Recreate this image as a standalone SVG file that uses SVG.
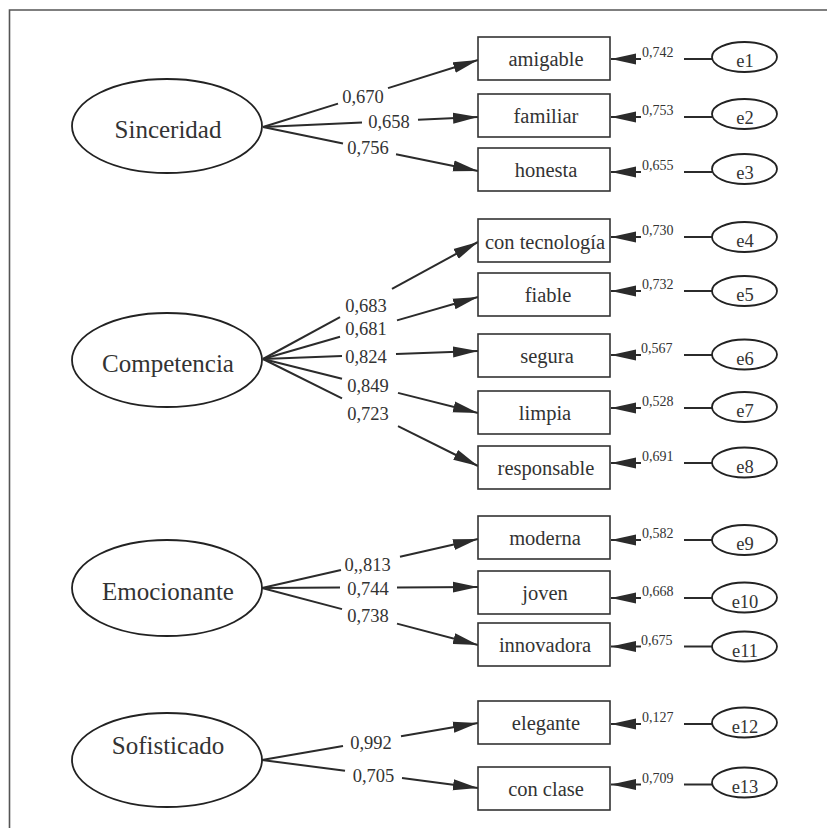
<svg xmlns="http://www.w3.org/2000/svg" width="827" height="828" viewBox="0 0 827 828">
<style>
text{font-family:"Liberation Serif","Times New Roman",serif;fill:#333}
.lat{fill:#fff;stroke:#222;stroke-width:1.8}
.box{fill:#fff;stroke:#333;stroke-width:1.6}
.err{fill:#fff;stroke:#222;stroke-width:1.8}
.lt{font-size:25px;text-anchor:middle}
.bt{font-size:20.5px;text-anchor:middle}
.et{font-size:18.5px;text-anchor:middle}
.ld{font-size:18.5px;text-anchor:middle}
.ev{font-size:14px}
.c{stroke:#2b2b2b;stroke-width:2;fill:none}
.frame{stroke:#555;stroke-width:1.6;fill:none}
</style>
<defs>
<marker id="ah" markerUnits="userSpaceOnUse" markerWidth="26" markerHeight="12" refX="25" refY="6" orient="auto">
<path d="M0,0.5 L25,6 L0,11.5 z" fill="#2b2b2b"/>
</marker>
</defs>
<rect width="827" height="828" fill="#fff"/>
<path class="frame" d="M9.5,828 V10 H827"/>

<g id="connectors">
<!-- Sinceridad -->
<line class="c" x1="263" y1="127" x2="338" y2="103.6"/><line class="c" x1="388" y1="88.1" x2="478" y2="60" marker-end="url(#ah)"/>
<line class="c" x1="263" y1="127" x2="362" y2="122.4"/><line class="c" x1="418" y1="119.8" x2="478" y2="117" marker-end="url(#ah)"/>
<line class="c" x1="263" y1="127" x2="343" y2="143.4"/><line class="c" x1="396" y1="154.2" x2="478" y2="171" marker-end="url(#ah)"/>
<!-- Competencia -->
<line class="c" x1="263" y1="359" x2="340" y2="317.1"/><line class="c" x1="392" y1="288.8" x2="478" y2="242" marker-end="url(#ah)"/>
<line class="c" x1="263" y1="359" x2="340" y2="336.8"/><line class="c" x1="397" y1="320.4" x2="478" y2="297" marker-end="url(#ah)"/>
<line class="c" x1="263" y1="359" x2="342" y2="356.1"/><line class="c" x1="396" y1="354.1" x2="478" y2="351" marker-end="url(#ah)"/>
<line class="c" x1="263" y1="359" x2="342" y2="378.8"/><line class="c" x1="398" y1="392.9" x2="478" y2="413" marker-end="url(#ah)"/>
<line class="c" x1="263" y1="359" x2="342" y2="398.3"/><line class="c" x1="398" y1="426.2" x2="478" y2="466" marker-end="url(#ah)"/>
<!-- Emocionante -->
<line class="c" x1="262" y1="588" x2="341" y2="570.1"/><line class="c" x1="400" y1="556.7" x2="478" y2="539" marker-end="url(#ah)"/>
<line class="c" x1="262" y1="588" x2="340" y2="587.6"/><line class="c" x1="397" y1="587.4" x2="478" y2="587" marker-end="url(#ah)"/>
<line class="c" x1="262" y1="588" x2="342" y2="609.1"/><line class="c" x1="397" y1="623.6" x2="478" y2="645" marker-end="url(#ah)"/>
<!-- Sofisticado -->
<line class="c" x1="262" y1="760" x2="343" y2="746.1"/><line class="c" x1="401" y1="736.2" x2="478" y2="723" marker-end="url(#ah)"/>
<line class="c" x1="262" y1="760" x2="345" y2="770.8"/><line class="c" x1="402" y1="778.1" x2="478" y2="788" marker-end="url(#ah)"/>
<!-- error terms -->
<line class="c" x1="641" y1="59" x2="611" y2="59" marker-end="url(#ah)"/><line class="c" x1="684" y1="59" x2="712" y2="59"/>
<line class="c" x1="641" y1="117" x2="611" y2="117" marker-end="url(#ah)"/><line class="c" x1="684" y1="117" x2="712" y2="117"/>
<line class="c" x1="641" y1="172" x2="611" y2="172" marker-end="url(#ah)"/><line class="c" x1="684" y1="172" x2="712" y2="172"/>
<line class="c" x1="641" y1="237" x2="611" y2="237" marker-end="url(#ah)"/><line class="c" x1="684" y1="237" x2="712" y2="237"/>
<line class="c" x1="641" y1="291" x2="611" y2="291" marker-end="url(#ah)"/><line class="c" x1="684" y1="291" x2="712" y2="291"/>
<line class="c" x1="641" y1="355" x2="611" y2="355" marker-end="url(#ah)"/><line class="c" x1="684" y1="355" x2="712" y2="355"/>
<line class="c" x1="641" y1="408" x2="611" y2="408" marker-end="url(#ah)"/><line class="c" x1="684" y1="408" x2="712" y2="408"/>
<line class="c" x1="641" y1="463" x2="611" y2="463" marker-end="url(#ah)"/><line class="c" x1="684" y1="463" x2="712" y2="463"/>
<line class="c" x1="641" y1="540" x2="611" y2="540" marker-end="url(#ah)"/><line class="c" x1="684" y1="540" x2="712" y2="540"/>
<line class="c" x1="641" y1="598" x2="611" y2="598" marker-end="url(#ah)"/><line class="c" x1="684" y1="598" x2="712" y2="598"/>
<line class="c" x1="641" y1="646.5" x2="611" y2="646.5" marker-end="url(#ah)"/><line class="c" x1="684" y1="646.5" x2="712" y2="646.5"/>
<line class="c" x1="641" y1="724" x2="611" y2="724" marker-end="url(#ah)"/><line class="c" x1="684" y1="724" x2="712" y2="724"/>
<line class="c" x1="641" y1="784.5" x2="611" y2="784.5" marker-end="url(#ah)"/><line class="c" x1="684" y1="784.5" x2="712" y2="784.5"/>
</g>

<g id="loadings">
<text class="ld" x="363" y="103">0,670</text>
<text class="ld" x="389" y="128">0,658</text>
<text class="ld" x="368" y="154">0,756</text>
<text class="ld" x="366" y="312">0,683</text>
<text class="ld" x="366" y="335">0,681</text>
<text class="ld" x="366" y="363">0,824</text>
<text class="ld" x="368" y="392">0,849</text>
<text class="ld" x="368" y="420">0,723</text>
<text class="ld" x="367.5" y="571">0,,813</text>
<text class="ld" x="368" y="595">0,744</text>
<text class="ld" x="368" y="622">0,738</text>
<text class="ld" x="371" y="749">0,992</text>
<text class="ld" x="373.5" y="782">0,705</text>
</g>

<g id="error-values">
<text class="ev" x="642" y="57">0,742</text>
<text class="ev" x="642" y="115">0,753</text>
<text class="ev" x="642" y="170">0,655</text>
<text class="ev" x="642" y="235">0,730</text>
<text class="ev" x="642" y="289">0,732</text>
<text class="ev" x="641" y="353">0,567</text>
<text class="ev" x="642" y="406">0,528</text>
<text class="ev" x="642" y="461">0,691</text>
<text class="ev" x="642" y="538">0,582</text>
<text class="ev" x="642" y="596">0,668</text>
<text class="ev" x="641" y="644.5">0,675</text>
<text class="ev" x="642" y="722">0,127</text>
<text class="ev" x="642" y="782.5">0,709</text>
</g>

<g id="Sinceridad"><ellipse class="lat" cx="167" cy="126" rx="95" ry="47"/><text class="lt" x="168" y="138">Sinceridad</text></g>
<g id="Competencia"><ellipse class="lat" cx="167" cy="360" rx="95" ry="47"/><text class="lt" x="168" y="372">Competencia</text></g>
<g id="Emocionante"><ellipse class="lat" cx="167" cy="588" rx="95" ry="48"/><text class="lt" x="168" y="600">Emocionante</text></g>
<g id="Sofisticado"><ellipse class="lat" cx="167" cy="760" rx="95" ry="47"/><text class="lt" x="168" y="754">Sofisticado</text></g>

<g id="amigable"><rect class="box" x="478" y="37" width="132" height="43"/><text class="bt" x="546" y="66">amigable</text></g>
<g id="familiar"><rect class="box" x="478" y="94" width="132" height="43"/><text class="bt" x="546" y="123">familiar</text></g>
<g id="honesta"><rect class="box" x="478" y="148" width="132" height="43"/><text class="bt" x="546" y="177">honesta</text></g>
<g id="con-tecnologia"><rect class="box" x="478" y="219" width="132" height="43"/><text class="bt" x="545" y="248.5">con tecnología</text></g>
<g id="fiable"><rect class="box" x="478" y="273" width="132" height="43"/><text class="bt" x="548" y="302">fiable</text></g>
<g id="segura"><rect class="box" x="478" y="334" width="132" height="43"/><text class="bt" x="547" y="363">segura</text></g>
<g id="limpia"><rect class="box" x="478" y="391" width="132" height="43"/><text class="bt" x="545" y="420">limpia</text></g>
<g id="responsable"><rect class="box" x="478" y="446" width="132" height="43"/><text class="bt" x="546" y="475">responsable</text></g>
<g id="moderna"><rect class="box" x="478" y="516" width="132" height="43"/><text class="bt" x="545" y="545">moderna</text></g>
<g id="joven"><rect class="box" x="478" y="571" width="132" height="43"/><text class="bt" x="545" y="600">joven</text></g>
<g id="innovadora"><rect class="box" x="478" y="623" width="132" height="43"/><text class="bt" x="545" y="652">innovadora</text></g>
<g id="elegante"><rect class="box" x="478" y="701" width="132" height="43"/><text class="bt" x="546" y="730">elegante</text></g>
<g id="con-clase"><rect class="box" x="478" y="767" width="132" height="43"/><text class="bt" x="546" y="796">con clase</text></g>

<g id="e1"><ellipse class="err" cx="744.5" cy="57" rx="32.5" ry="15"/><text class="et" x="745" y="67">e1</text></g>
<g id="e2"><ellipse class="err" cx="744.5" cy="114" rx="32.5" ry="15"/><text class="et" x="745" y="124">e2</text></g>
<g id="e3"><ellipse class="err" cx="744.5" cy="169" rx="32.5" ry="15"/><text class="et" x="745" y="179">e3</text></g>
<g id="e4"><ellipse class="err" cx="744.5" cy="237" rx="32.5" ry="15"/><text class="et" x="745" y="247">e4</text></g>
<g id="e5"><ellipse class="err" cx="744.5" cy="291" rx="32.5" ry="15"/><text class="et" x="745" y="301">e5</text></g>
<g id="e6"><ellipse class="err" cx="744.5" cy="354.5" rx="32.5" ry="15"/><text class="et" x="745" y="364.5">e6</text></g>
<g id="e7"><ellipse class="err" cx="744.5" cy="407" rx="32.5" ry="15"/><text class="et" x="745" y="417">e7</text></g>
<g id="e8"><ellipse class="err" cx="744.5" cy="462.5" rx="32.5" ry="15"/><text class="et" x="745" y="472.5">e8</text></g>
<g id="e9"><ellipse class="err" cx="744.5" cy="540" rx="32.5" ry="15"/><text class="et" x="745" y="550">e9</text></g>
<g id="e10"><ellipse class="err" cx="744.5" cy="597.5" rx="32.5" ry="15"/><text class="et" x="745" y="607.5">e10</text></g>
<g id="e11"><ellipse class="err" cx="744.5" cy="646.5" rx="32.5" ry="15"/><text class="et" x="745" y="656.5">e11</text></g>
<g id="e12"><ellipse class="err" cx="744.5" cy="722.5" rx="32.5" ry="15"/><text class="et" x="745" y="732.5">e12</text></g>
<g id="e13"><ellipse class="err" cx="744.5" cy="782.5" rx="32.5" ry="15"/><text class="et" x="745" y="792.5">e13</text></g>
</svg>
